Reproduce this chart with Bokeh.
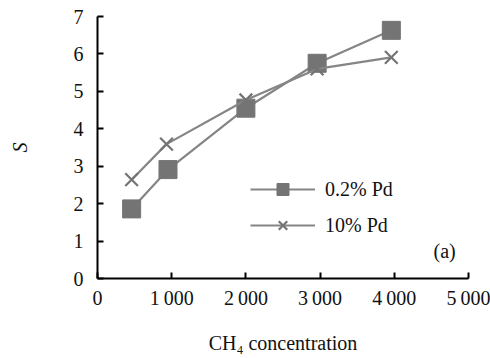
from bokeh.plotting import figure
from bokeh.models import Range1d, Legend, LegendItem, Label, FixedTicker
from bokeh.embed import file_html
from bokeh.resources import INLINE

# Data
conc = [460, 950, 2000, 2960, 3960]
s_02pd = [1.86, 2.91, 4.55, 5.75, 6.63]
conc_10 = [460, 930, 2000, 2960, 3960]
s_10pd = [2.64, 3.59, 4.77, 5.60, 5.91]

x_ticks = [0, 1000, 2000, 3000, 4000, 5000]
x_tick_labels = ["0", "1\u2009000", "2\u2009000", "3\u2009000", "4\u2009000", "5\u2009000"]
y_ticks = [0, 1, 2, 3, 4, 5, 6, 7]

FONT = "Liberation Serif"
LINE_C = "#858585"
MARK_C = "#747474"
FS = "20px"

p = figure(width=490, height=358, output_backend="svg", toolbar_location=None,
           x_range=Range1d(0, 5000), y_range=Range1d(0, 7),
           min_border_left=97, min_border_right=22, min_border_top=16, min_border_bottom=80)
p.outline_line_color = None
p.xgrid.visible = False
p.ygrid.visible = False
p.background_fill_color = "white"

for ax in (p.xaxis[0], p.yaxis[0]):
    ax.axis_line_color = "black"
    ax.axis_line_width = 2
    ax.major_tick_line_color = "black"
    ax.major_tick_line_width = 2
    ax.major_tick_in = 6
    ax.major_tick_out = 0
    ax.minor_tick_line_color = None
    ax.major_label_text_font = FONT
    ax.major_label_text_font_size = FS
    ax.major_label_text_color = "#111111"
    ax.axis_label_text_font = FONT
    ax.axis_label_text_font_size = FS
    ax.axis_label_text_color = "#111111"

p.xaxis.ticker = FixedTicker(ticks=x_ticks)
p.xaxis.major_label_overrides = {t: l for t, l in zip(x_ticks, x_tick_labels)}
p.xaxis.major_label_standoff = 8
p.xaxis.axis_label = "CH\u2084 concentration"
p.xaxis.axis_label_standoff = 20
p.xaxis.axis_label_text_font_style = "normal"

p.yaxis.ticker = FixedTicker(ticks=y_ticks)
p.yaxis.major_label_standoff = 14
p.yaxis.axis_label = "S"
p.yaxis.axis_label_standoff = 40
p.yaxis.axis_label_text_font_style = "italic"

l1 = p.line(conc, s_02pd, line_color=LINE_C, line_width=2.2)
m1 = p.scatter(conc, s_02pd, marker="square", size=18, fill_color=MARK_C,
               line_color=MARK_C, line_width=1)
l2 = p.line(conc_10, s_10pd, line_color=LINE_C, line_width=2.2)
m2 = p.scatter(conc_10, s_10pd, marker="x", size=18, line_color=MARK_C, line_width=2.2)

legend = Legend(items=[LegendItem(label="0.2% Pd", renderers=[l1, m1]),
                       LegendItem(label="10% Pd", renderers=[l2, m2])],
                location=(153, 38), orientation="vertical",
                glyph_width=65, glyph_height=30, spacing=6, padding=0, margin=0,
                label_standoff=10, label_text_font=FONT, label_text_font_size=FS,
                label_text_color="#111111",
                border_line_color=None, background_fill_alpha=0)
p.add_layout(legend, "center")

p.add_layout(Label(x=336, y=28, x_units="screen", y_units="screen",
                   text="(a)", text_font=FONT, text_font_size=FS,
                   text_color="#111111", text_baseline="middle"))

open("out.html", "w").write(file_html(p, INLINE))
